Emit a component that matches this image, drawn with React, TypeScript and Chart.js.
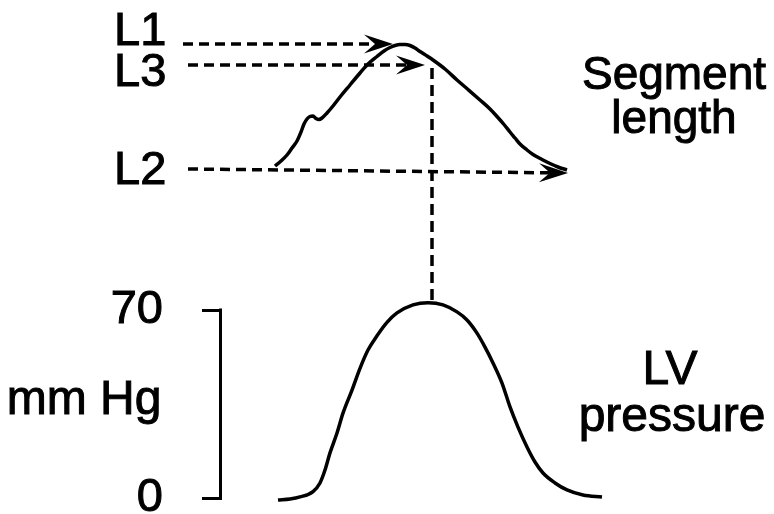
import React, { useEffect, useRef } from "react";
import { Chart, registerables } from "chart.js";

Chart.register(...registerables);

// ---- Data ----
// time axis (ms from an arbitrary origin)
const lengthTime = [53, 59, 65, 70, 75, 79, 82, 85, 88, 91, 94, 97, 100, 105, 111, 118, 128, 138, 146, 155, 162, 168, 173, 178, 183, 188, 193, 198, 205, 211, 223, 235, 246, 258, 268, 275, 282, 288, 293, 298, 305, 311, 320, 328, 336, 345];
// segment length (mm)
const lengthMm = [13.48, 13.53, 13.59, 13.66, 13.73, 13.82, 13.9, 13.95, 13.975, 13.98, 13.955, 13.945, 13.96, 14.01, 14.08, 14.17, 14.29, 14.41, 14.5, 14.575, 14.63, 14.665, 14.685, 14.695, 14.695, 14.685, 14.66, 14.625, 14.58, 14.54, 14.45, 14.34, 14.245, 14.14, 14.05, 13.975, 13.895, 13.82, 13.76, 13.7, 13.64, 13.595, 13.545, 13.505, 13.47, 13.44];

const pressureTime = [56, 68, 78, 91, 98, 103, 108, 115, 121, 130, 138, 146, 155, 165, 175, 191, 206, 221, 235, 245, 255, 263, 271, 280, 288, 296, 305, 313, 321, 333, 345, 361, 380];
// LV pressure (mm Hg)
const pressureMmHg = [-0.74, -0.37, 0.4, 2.4, 5.6, 10.4, 16.8, 24.2, 31.6, 40.2, 48.3, 55.1, 60.4, 65.4, 68.9, 71.9, 72.7, 71.9, 69.3, 66.3, 61.4, 56.2, 50.3, 42.8, 33.9, 26.4, 19.0, 13.4, 9.3, 5.6, 3.0, 1.1, 0.37];

// reference levels (dashed arrows)
const levelLabels = ["L1", "L3", "L2"];
const levelStartTime = [-39, -34, -34];
const levelEndTime = [171, 203, 346];
const levelStartMm = [14.7, 14.49, 13.45];
const levelEndMm = [14.7, 14.49, 13.41];

// end-systole marker time (ms)
const endSystoleTime = 210;

const pressureTicks = [0, 70];
const pressureUnit = "mm Hg";
const lengthTitle = ["Segment", "length"];
const pressureTitle = ["LV", "pressure"];

const FONT_FAMILY = '"Liberation Sans", Arial, Helvetica, sans-serif';

function heavyText(ctx: CanvasRenderingContext2D, s: string, x: number, y: number) {
  ctx.fillText(s, x, y);
  ctx.strokeText(s, x, y);
}

const diagramPlugin = {
  id: "diagram",
  afterDatasetsDraw(chart: any) {
    const ctx = chart.ctx as CanvasRenderingContext2D;
    const xs = chart.scales.x;
    const yL = chart.scales.yL;
    const yP = chart.scales.yP;
    ctx.save();
    ctx.strokeStyle = "#000";
    ctx.fillStyle = "#000";

    // bracket (scale bar) vertical stroke
    const bx = yP.right - 1.5;
    const top = yP.getPixelForValue(pressureTicks[1]);
    const bot = yP.getPixelForValue(pressureTicks[0]);
    ctx.lineWidth = 3;
    ctx.setLineDash([]);
    ctx.beginPath();
    ctx.moveTo(bx, top - 1.5);
    ctx.lineTo(bx, bot + 1.5);
    ctx.stroke();

    // vertical dashed link from L3 to pressure peak
    const peak = Math.max(...pressureMmHg);
    const lx = xs.getPixelForValue(endSystoleTime);
    ctx.lineWidth = 3.5;
    ctx.setLineDash([11, 6]);
    ctx.beginPath();
    ctx.moveTo(lx, yL.getPixelForValue(levelEndMm[1]) + 3);
    ctx.lineTo(lx, yP.getPixelForValue(peak) + 1);
    ctx.stroke();
    ctx.setLineDash([]);

    // arrowheads
    for (let i = 0; i < levelLabels.length; i++) {
      const x1 = xs.getPixelForValue(levelStartTime[i]);
      const y1 = yL.getPixelForValue(levelStartMm[i]);
      const x2 = xs.getPixelForValue(levelEndTime[i]);
      const y2 = yL.getPixelForValue(levelEndMm[i]);
      const a = Math.atan2(y2 - y1, x2 - x1);
      ctx.save();
      ctx.translate(x2, y2);
      ctx.rotate(a);
      ctx.beginPath();
      ctx.moveTo(0, 0);
      ctx.lineTo(-29, -9.5);
      ctx.lineTo(-18, 0);
      ctx.lineTo(-29, 9.5);
      ctx.closePath();
      ctx.fill();
      ctx.restore();
    }

    // texts
    ctx.lineWidth = 1;
    ctx.textBaseline = "alphabetic";
    ctx.textAlign = "left";
    ctx.font = "47px " + FONT_FAMILY;
    heavyText(ctx, levelLabels[0], 114, 45);
    heavyText(ctx, levelLabels[1], 114, 86);
    heavyText(ctx, levelLabels[2], 114, 184);

    ctx.textAlign = "center";
    ctx.font = "46px " + FONT_FAMILY;
    heavyText(ctx, lengthTitle[0], 674, 89);
    heavyText(ctx, lengthTitle[1], 674, 133);
    ctx.font = "48px " + FONT_FAMILY;
    heavyText(ctx, pressureTitle[0], 670, 384);
    heavyText(ctx, pressureTitle[1], 672, 431);
    heavyText(ctx, pressureUnit, 84, 414);
    ctx.restore();
  },
};

export default function App() {
  const ref = useRef<HTMLCanvasElement | null>(null);
  useEffect(() => {
    const canvas = ref.current;
    if (!canvas) return;
    const dashed = {
      borderColor: "#000",
      borderWidth: 3.5,
      borderDash: [10, 6],
      pointRadius: 0,
      tension: 0,
      clip: false as any,
      yAxisID: "yL",
    };
    const chart = new Chart(canvas, {
      type: "line",
      data: {
        datasets: [
          {
            label: "Segment length",
            data: lengthTime.map((t, i) => ({ x: t, y: lengthMm[i] })),
            borderColor: "#000",
            borderWidth: 3.5,
            pointRadius: 0,
            cubicInterpolationMode: "monotone",
            yAxisID: "yL",
            clip: false as any,
          },
          {
            label: "LV pressure",
            data: pressureTime.map((t, i) => ({ x: t, y: pressureMmHg[i] })),
            borderColor: "#000",
            borderWidth: 3.5,
            pointRadius: 0,
            cubicInterpolationMode: "monotone",
            yAxisID: "yP",
            clip: false as any,
          },
          ...levelLabels.map((lab, i) => ({
            ...dashed,
            label: lab,
            data: [
              { x: levelStartTime[i], y: levelStartMm[i] },
              { x: levelEndTime[i] - 18, y: levelEndMm[i] + (levelStartMm[i] - levelEndMm[i]) * 18 / (levelEndTime[i] - levelStartTime[i]) },
            ],
          })),
        ],
      },
      options: {
        responsive: false,
        maintainAspectRatio: false,
        animation: false,
        devicePixelRatio: 1,
        events: [],
        layout: { padding: 0 },
        plugins: {
          legend: { display: false },
          tooltip: { enabled: false },
          title: { display: false },
        },
        scales: {
          x: { type: "linear", min: 0, max: 552, display: false },
          yL: { type: "linear", position: "left", min: 10, max: 15.14, display: false },
          yP: {
            type: "linear",
            position: "left",
            min: -(16 * 70) / 188,
            max: -(16 * 70) / 188 + (514 * 70) / 188,
            afterBuildTicks: (scale: any) => {
              scale.ticks = pressureTicks.map((v) => ({ value: v }));
            },
            afterFit: (scale: any) => {
              scale.width = 222;
              scale.paddingTop = 0;
              scale.paddingBottom = 0;
            },
            border: { display: false },
            grid: {
              drawOnChartArea: false,
              drawTicks: true,
              tickLength: 20,
              color: "#000",
              lineWidth: 3,
            },
            ticks: {
              color: "#000",
              padding: 39,
              textStrokeColor: "#000",
              textStrokeWidth: 1,
              font: { family: FONT_FAMILY, size: 47 },
              callback: (v: any) => String(v),
            },
          },
        },
      },
      plugins: [diagramPlugin],
    });
    return () => chart.destroy();
  }, []);
  return (
    <div style={{ position: "fixed", left: 0, top: 0, width: 774, height: 514, background: "#fff" }}>
      <canvas ref={ref} width={774} height={514} style={{ display: "block" }} />
    </div>
  );
}
